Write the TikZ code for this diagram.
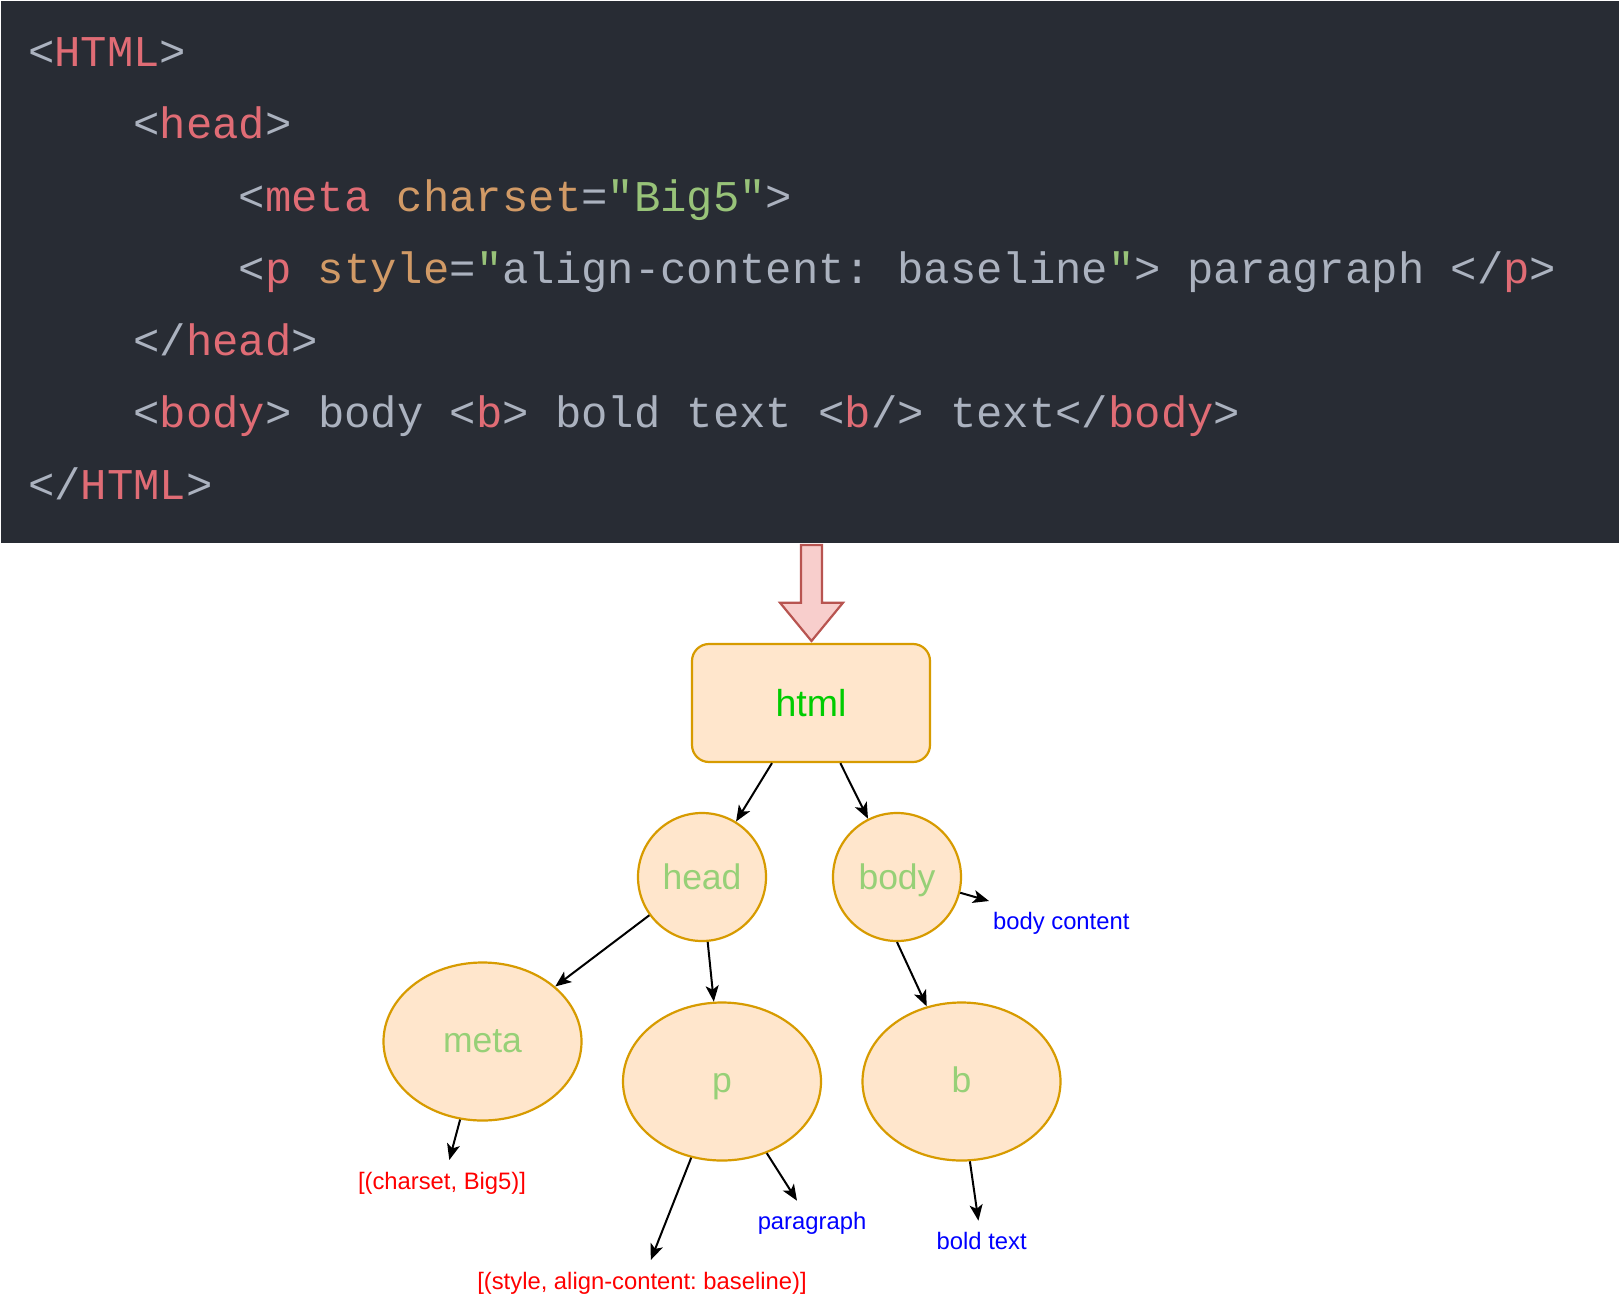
\documentclass[tikz,border=0pt]{standalone}
\usepackage{fontspec}
\setmainfont{Liberation Sans}
\newfontfamily\codefont{Liberation Mono}
\usetikzlibrary{arrows.meta,shapes.geometric}
\definecolor{codebg}{HTML}{282C34}
\definecolor{tagred}{HTML}{E06C75}
\definecolor{punct}{HTML}{ABB2BF}
\definecolor{attrc}{HTML}{D19A66}
\definecolor{strc}{HTML}{98C379}
\definecolor{nodefill}{HTML}{FFE6CC}
\definecolor{nodeline}{HTML}{D79B00}
\definecolor{nodetxt}{HTML}{97D077}
\definecolor{htmltxt}{HTML}{00CC00}
\definecolor{arrfill}{HTML}{F8CECC}
\definecolor{arrline}{HTML}{B85450}
\newcommand\cP[1]{\textcolor{punct}{#1}}
\newcommand\cT[1]{\textcolor{tagred}{#1}}
\newcommand\cA[1]{\textcolor{attrc}{#1}}
\newcommand\cS[1]{\textcolor{strc}{#1}}
\frenchspacing
\tikzset{
  codeline/.style={anchor=base west, inner sep=0pt, text=punct,
    font=\codefont\fontsize{43.9}{50}\selectfont\frenchspacing},
  treenode/.style={fill=nodefill, draw=nodeline, line width=2.2pt, inner sep=0pt,
    text=nodetxt, font=\fontsize{35.5}{40}\selectfont, text height=25.5pt, text depth=0pt},
  roundnode/.style={treenode, circle, minimum size=128pt},
  ovalnode/.style={treenode, ellipse, minimum width=198pt, minimum height=158pt, text height=21.5pt},
  lab/.style={inner sep=0pt, font=\fontsize{23.8}{27}\selectfont\frenchspacing,
    text height=17pt, text depth=5pt},
  bluelabel/.style={lab, text=blue},
  redlabel/.style={lab, text=red},
  edge/.style={draw=black, line width=2pt, -{Stealth[length=16pt,width=13pt,inset=4pt]}},
}
\begin{document}
\begin{tikzpicture}[x=1pt,y=-1pt]
\path[use as bounding box, fill=white] (0,0) rectangle (1622,1308);
\fill[codebg] (1,1) rectangle (1619,543);
% code lines
\node[codeline] (l1) at (28,66.7) {\cP{<}\cT{HTML}\cP{>}};
\node[codeline] (l2) at (133.4,138.9) {\cP{<}\cT{head}\cP{>}};
\node[codeline] (l3) at (238.7,211.1) {\cP{<}\cT{meta} \cA{charset}\cP{=}\cS{"Big5"}\cP{>}};
\node[codeline] (l4) at (238.7,283.3) {\cP{<}\cT{p} \cA{style}\cP{=}\cS{"}\cP{align-content: baseline}\cS{"}\cP{> paragraph </}\cT{p}\cP{>}};
\node[codeline] (l5) at (133.4,355.5) {\cP{</}\cT{head}\cP{>}};
\node[codeline] (l6) at (133.4,427.7) {\cP{<}\cT{body}\cP{> body <}\cT{b}\cP{> bold text <}\cT{b}\cP{/> text</}\cT{body}\cP{>}};
\node[codeline] (l7) at (28,499.9) {\cP{</}\cT{HTML}\cP{>}};
% big arrow
\draw[fill=arrfill, draw=arrline, line width=2.2pt, line join=miter]
  (801,545) -- (822,545) -- (822,602.7) -- (843,602.7) -- (811.5,641)
  -- (780,602.7) -- (801,602.7) -- cycle;
% tree nodes
\node[treenode, rectangle, rounded corners=17pt, minimum width=238pt, minimum height=118pt,
  text=htmltxt, font=\fontsize{37.5}{42}\selectfont, text height=27pt] (html) at (811,703) {html};
\node[roundnode] (head) at (702,877) {head};
\node[roundnode] (body) at (897,877) {body};
\node[ovalnode] (meta) at (482.5,1041.5) {meta};
\node[ovalnode] (p) at (722,1081.5) {p};
\node[ovalnode] (b) at (961.5,1081.5) {b};
% labels
\node[bluelabel] (bodycontent) at (1061.3,923.6) {body content};
\node[redlabel] (charset) at (442,1183) {[(charset, Big5)]};
\node[bluelabel] (paragraph) at (812,1223.6) {paragraph};
\node[bluelabel] (boldtext) at (981.7,1243) {bold text};
\node[redlabel] (stylelab) at (642,1283.6) {[(style, align-content: baseline)]};
% free ends
\coordinate (tipbc) at (989,901);
\coordinate (tipcs) at (449.3,1160);
\coordinate (tipst) at (650.8,1260);
\coordinate (tippa) at (797,1200.7);
\coordinate (tipbo) at (978.4,1220.7);
% edges
\draw[edge] (html.237.65) -- (head);
\draw[edge] (html.296.57) -- (body);
\draw[edge] (head.216.87) -- (meta);
\draw[edge] (head.275.7) -- (p);
\draw[edge] (body.270) -- (b);
\draw[edge] (body.346.2) -- (tipbc);
\draw[edge] (meta.254.1) -- (tipcs);
\draw[edge] (p.248.35) -- (tipst);
\draw[edge] (p.302.7) -- (tippa);
\draw[edge] (b.276.6) -- (tipbo);
\end{tikzpicture}
\end{document}
